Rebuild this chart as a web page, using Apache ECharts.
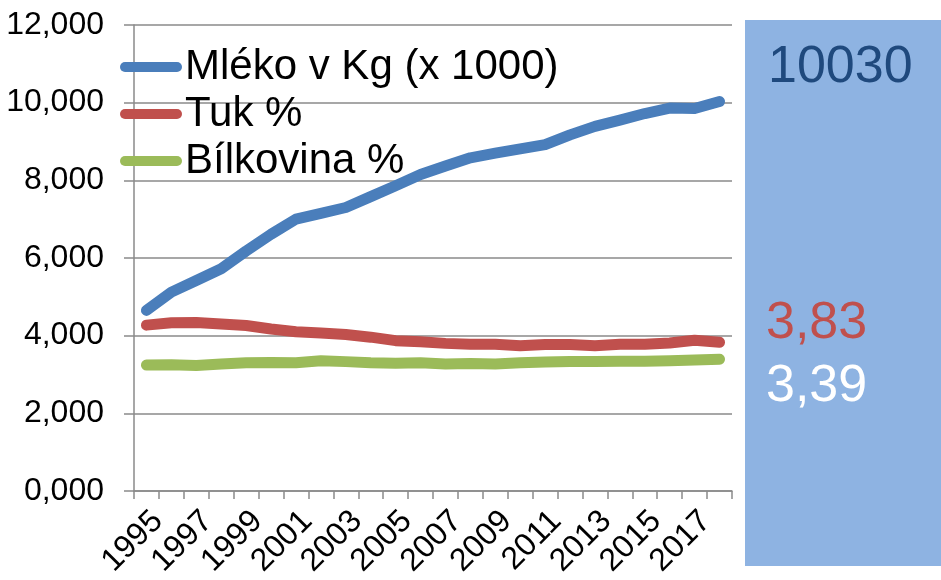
<!DOCTYPE html>
<html>
<head>
<meta charset="utf-8">
<script src="https://cdn.jsdelivr.net/npm/echarts@6/dist/echarts.min.js"></script>
<style>
html,body{margin:0;padding:0;background:#fff;}
#c{width:941px;height:580px;}
</style>
</head>
<body>
<div id="c"></div>
<script>
const years = ['1995','1996','1997','1998','1999','2000','2001','2002','2003','2004','2005','2006','2007','2008','2009','2010','2011','2012','2013','2014','2015','2016','2017','2018'];
const milk = [4.65,5.12,5.42,5.72,6.18,6.61,7.00,7.15,7.30,7.58,7.86,8.15,8.37,8.58,8.70,8.81,8.92,9.17,9.39,9.55,9.72,9.86,9.85,10.03];
const fat = [4.27,4.33,4.34,4.30,4.26,4.17,4.10,4.07,4.03,3.96,3.87,3.84,3.80,3.78,3.78,3.74,3.77,3.77,3.74,3.78,3.78,3.81,3.88,3.83];
const protein = [3.24,3.25,3.23,3.27,3.30,3.31,3.30,3.35,3.33,3.30,3.29,3.30,3.27,3.28,3.27,3.30,3.32,3.33,3.33,3.34,3.34,3.35,3.37,3.39];
const seriesNames = ['Mléko v Kg (x 1000)','Tuk %','Bílkovina %'];
const boxTexts = ['10030','3,83','3,39'];

const FONT = "'Liberation Sans', Arial, sans-serif";
const colors = ['#4A7EBB','#C0504D','#9BBB59'];
const capsule = 'path://M5,0 H57 A5,5 0 0 1 57,10 H5 A5,5 0 0 1 5,0 Z';

const chart = echarts.init(document.getElementById('c'), null, {renderer:'canvas'});
function mk(name, data, color){
  return {
    name: name, type: 'line', data: data, showSymbol: false, symbol: 'none',
    lineStyle: {color: color, width: 11, cap: 'round', join: 'round'},
    itemStyle: {color: color},
    animation: false, z: 3
  };
}
chart.setOption({
  animation: false,
  textStyle: {fontFamily: FONT},
  grid: {left: 134, right: 209, top: 25, bottom: 86, containLabel: false},
  legend: {
    orient: 'vertical', left: 115, top: 41, itemWidth: 62, itemHeight: 12, itemGap: 5,
    icon: capsule,
    textStyle: {fontFamily: FONT, fontSize: 42, color: '#000', lineHeight: 42, padding: [0,0,0,-2]},
    data: seriesNames.map((n,i)=>({name:n, itemStyle:{color:colors[i]}}))
  },
  xAxis: {
    type: 'category', data: years, boundaryGap: true,
    axisLine: {show: true, lineStyle: {color: '#8a8a8a', width: 1.5}},
    axisTick: {show: true, interval: 0, length: 8, lineStyle: {color: '#8a8a8a', width: 1.5}},
    axisLabel: {interval: 1, rotate: 45, fontSize: 32, color: '#000', fontFamily: FONT, margin: 14, verticalAlign: 'top', align: 'right'},
    splitLine: {show: false}
  },
  yAxis: {
    type: 'value', min: 0, max: 12, interval: 2,
    axisLine: {show: true, lineStyle: {color: '#8a8a8a', width: 1.5}},
    axisTick: {show: true, length: 10, lineStyle: {color: '#8a8a8a', width: 1.5}},
    axisLabel: {fontSize: 32, color: '#000', fontFamily: FONT, margin: 30,
      formatter: v => v.toFixed(3).replace('.', ',')},
    splitLine: {show: true, lineStyle: {color: '#8a8a8a', width: 1.5}}
  },
  series: [mk(seriesNames[0], milk, colors[0]), mk(seriesNames[1], fat, colors[1]), mk(seriesNames[2], protein, colors[2])],
  graphic: [
    {type: 'rect', left: 745, top: 20, shape: {width: 196, height: 546}, style: {fill: '#8EB3E2'}, z: 1},
    {type: 'text', x: 768, y: 67.5, style: {text: boxTexts[0], fontSize: 52, fontFamily: FONT, fill: '#1F497D', verticalAlign: 'middle'}, z: 2},
    {type: 'text', x: 766, y: 323.5, style: {text: boxTexts[1], fontSize: 52, fontFamily: FONT, fill: '#C0504D', verticalAlign: 'middle'}, z: 2},
    {type: 'text', x: 766, y: 386.5, style: {text: boxTexts[2], fontSize: 52, fontFamily: FONT, fill: '#FFFFFF', verticalAlign: 'middle'}, z: 2}
  ]
});
</script>
</body>
</html>
